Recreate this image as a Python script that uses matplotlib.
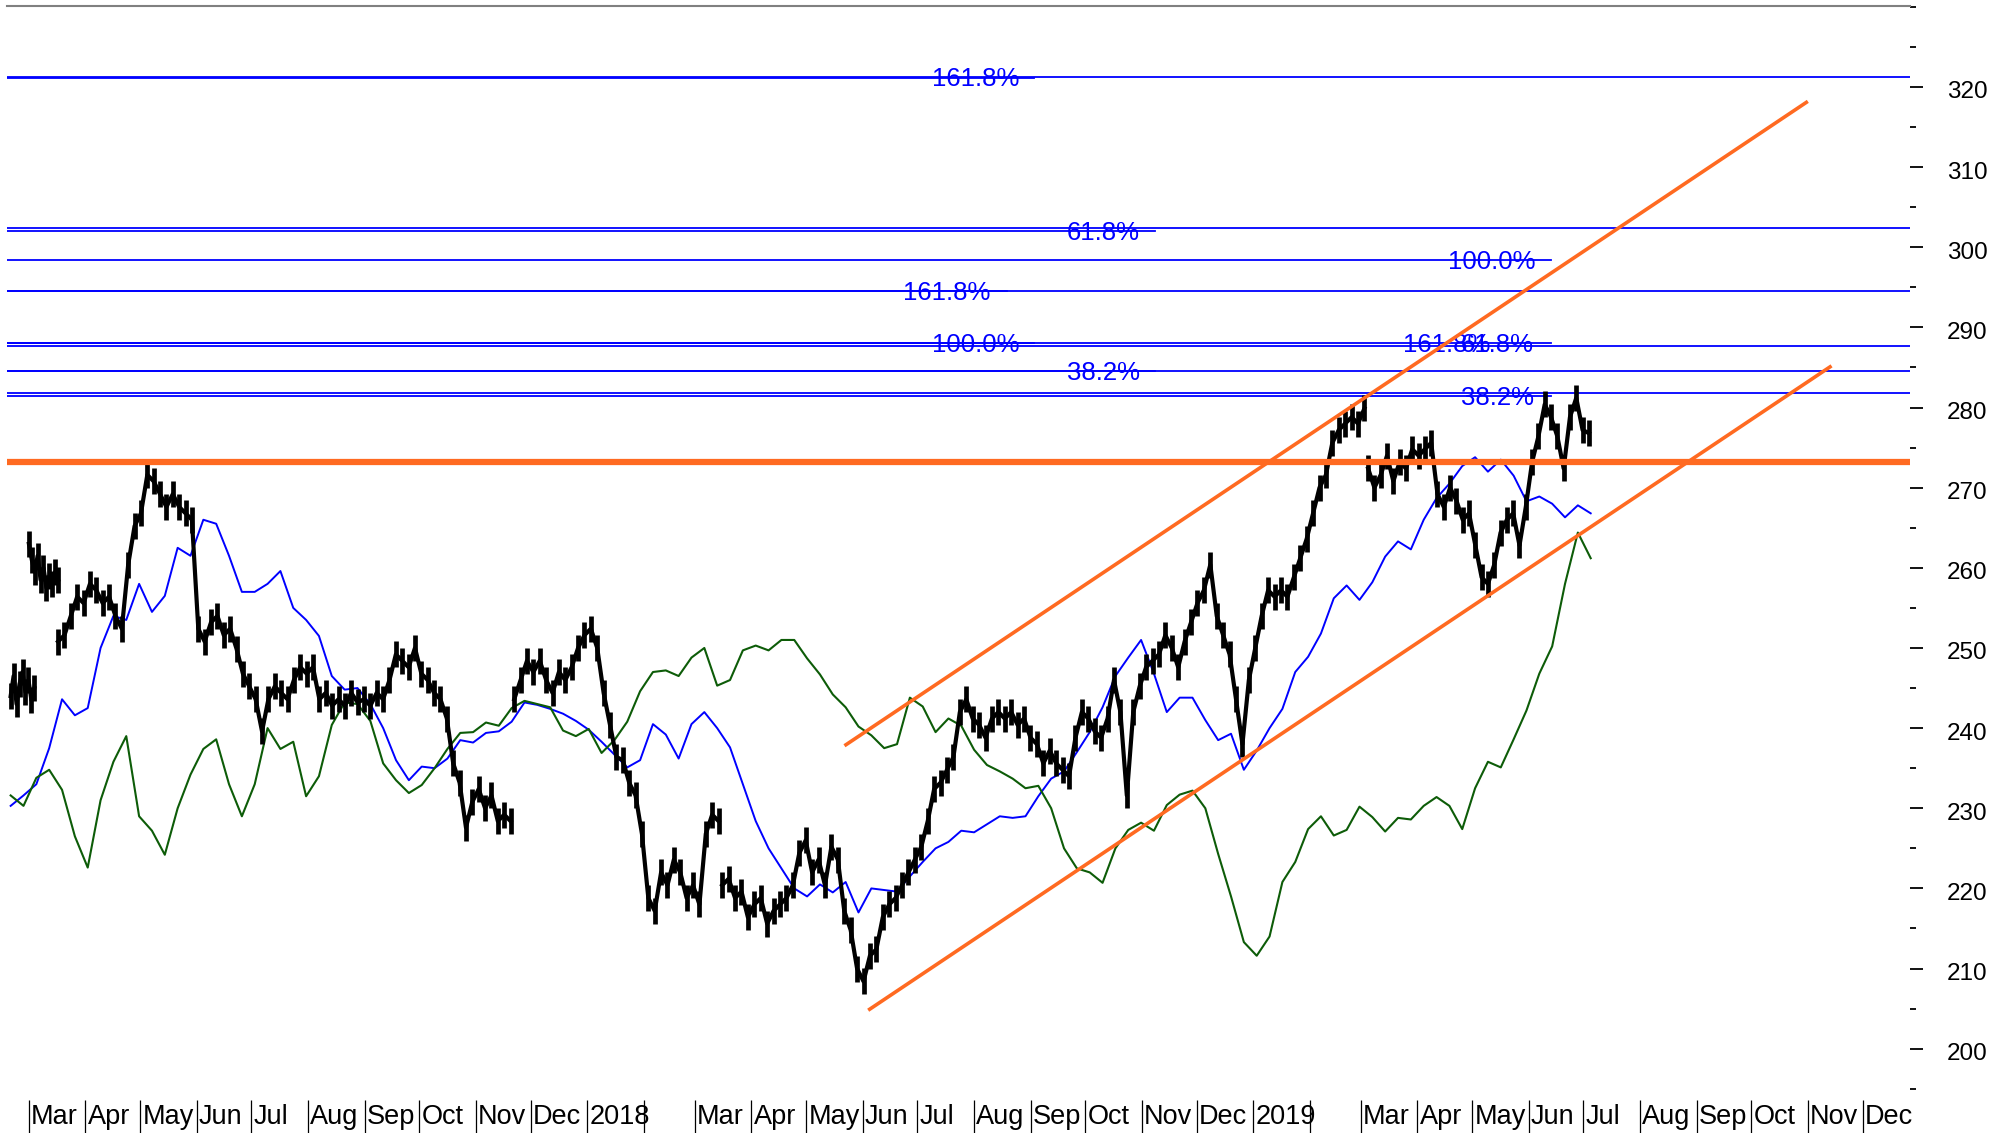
import pandas as pd
import matplotlib
matplotlib.use('Agg')
import matplotlib.pyplot as plt
import matplotlib.transforms as mtransforms
from matplotlib.ticker import MultipleLocator

plt.rcParams['font.family'] = ['Liberation Sans', 'DejaVu Sans']

# ---- price (close) segments ----
seg1_span = ('2017-02-19', '2017-03-04')
seg1 = [244.0, 246.5, 243.0, 245.5, 247.0, 244.5, 246.0, 243.5, 245.0]

seg2_span = ('2017-03-01', '2017-03-17')
seg2 = [263.0, 261.0, 259.5, 261.5, 258.5, 260.0, 257.5, 259.0, 258.0, 259.5, 258.5]

seg3_span = ('2017-03-17', '2017-11-20')
seg3 = [250.8, 251.6, 254.0, 256.4, 255.6, 258.0, 257.2, 255.6, 256.4, 254.0,
        252.4, 260.4, 265.2, 266.8, 271.6, 270.8, 269.2, 267.6, 269.2, 267.6,
        266.8, 266.0, 252.4, 250.8, 253.2, 254.0, 251.6, 252.4, 249.9, 246.8,
        245.2, 243.6, 239.6, 243.6, 245.2, 244.4, 243.6, 246.0, 247.6, 246.8,
        247.6, 243.6, 244.4, 242.8, 243.6, 242.8, 244.4, 243.2, 243.6, 242.8,
        244.4, 243.6, 246.0, 249.2, 248.4, 247.6, 250.0, 246.8, 246.0, 244.4,
        243.6, 241.2, 235.6, 233.2, 227.6, 230.8, 232.4, 230.0, 231.6, 228.4,
        229.2, 228.4]

seg4_span = ('2017-11-22', '2018-03-14')
seg4 = [243.6, 246.0, 248.4, 247.0, 248.4, 246.0, 244.4, 247.0, 246.0, 247.6,
        250.0, 251.6, 252.4, 250.0, 244.4, 240.4, 236.4, 236.0, 233.2, 231.6,
        226.8, 218.8, 217.2, 222.0, 220.4, 223.6, 222.0, 218.8, 220.4, 218.0,
        226.8, 229.2, 228.4]

seg5_span = ('2018-03-16', '2019-03-03')
seg5 = [220.4, 221.2, 218.8, 219.6, 216.4, 218.0, 218.8, 215.6, 217.2, 218.0,
        218.8, 220.4, 224.4, 226.0, 222.0, 223.6, 220.4, 225.2, 223.6, 217.2,
        214.8, 210.0, 208.4, 211.6, 212.4, 216.4, 218.0, 218.8, 220.4, 222.0,
        223.6, 225.2, 228.4, 232.4, 233.2, 234.8, 236.4, 242.0, 243.6, 241.2,
        240.4, 238.8, 241.2, 242.0, 241.2, 242.0, 240.4, 241.2, 238.8, 238.0,
        235.6, 237.2, 235.6, 234.8, 234.0, 238.8, 242.0, 241.2, 239.6, 238.8,
        241.2, 246.0, 242.0, 231.6, 242.0, 245.2, 247.6, 248.4, 249.2, 251.6,
        250.0, 247.6, 250.8, 253.2, 255.6, 257.2, 260.4, 254.0, 251.6, 249.2,
        243.6, 238.0, 246.0, 250.0, 254.0, 257.2, 256.4, 257.2, 256.4, 258.8,
        261.2, 263.6, 266.8, 270.0, 271.6, 275.6, 277.2, 278.0, 278.8, 278.0,
        279.9]

seg6_span = ('2019-03-05', '2019-07-04')
seg6 = [272.4, 270.0, 271.6, 274.0, 270.8, 273.2, 272.4, 274.8, 274.0, 274.8,
        275.6, 269.2, 267.6, 270.0, 268.4, 266.0, 266.8, 262.8, 258.8, 258.0,
        260.4, 264.4, 266.0, 266.8, 262.8, 267.6, 273.2, 276.4, 280.4, 278.8,
        276.4, 272.4, 278.8, 281.2, 277.2, 276.8]

# ---- blue and green lines (weekly readings) ----
lines_span = ('2017-02-19', '2019-07-05')
blue = [230.3, 231.6, 233.0, 237.5, 243.6, 241.6, 242.5, 250.0, 254.0, 253.5,
        258.0, 254.5, 256.5, 262.5, 261.5, 266.0, 265.5, 261.5, 257.0, 257.0,
        258.0, 259.6, 255.0, 253.5, 251.5, 246.5, 244.8, 245.0, 243.0, 240.0,
        236.0, 233.5, 235.2, 235.0, 236.2, 238.5, 238.2, 239.4, 239.6, 240.8,
        243.2, 242.9, 242.4, 241.8, 240.9, 239.8, 238.3, 236.7, 235.1, 236.0,
        240.5, 239.2, 236.2, 240.5, 242.0, 240.0, 237.6, 233.0, 228.4, 225.0,
        222.5, 220.0, 219.0, 220.5, 219.5, 220.8, 217.0, 220.0, 219.8, 219.6,
        221.5, 223.3, 225.0, 225.8, 227.2, 227.0, 228.0, 229.0, 228.8, 229.0,
        231.5, 233.7, 234.6, 237.0, 239.5, 242.6, 246.5, 248.8, 251.0, 246.8,
        242.0, 243.8, 243.8, 241.0, 238.5, 239.3, 234.8, 237.2, 240.0, 242.4,
        247.0, 248.9, 251.8, 256.2, 257.8, 256.0, 258.2, 261.4, 263.3, 262.3,
        266.0, 268.7, 270.5, 272.7, 273.8, 272.0, 273.5, 271.5, 268.3, 268.9,
        268.0, 266.3, 267.8, 266.8]

green = [231.6, 230.3, 233.8, 234.8, 232.3, 226.5, 222.6, 231.0, 235.8, 239.0,
         229.0, 227.2, 224.2, 230.0, 234.2, 237.4, 238.6, 233.0, 229.0, 233.0,
         240.0, 237.4, 238.3, 231.5, 234.0, 240.4, 243.2, 243.0, 240.9, 235.6,
         233.5, 231.9, 232.9, 235.0, 237.4, 239.4, 239.5, 240.7, 240.3, 242.5,
         243.4, 243.0, 242.6, 239.7, 239.0, 239.9, 236.9, 238.5, 240.8, 244.6,
         247.0, 247.2, 246.5, 248.8, 250.0, 245.3, 246.0, 249.7, 250.3, 249.7,
         251.0, 251.0, 248.7, 246.7, 244.2, 242.6, 240.2, 239.1, 237.5, 238.0,
         243.8, 242.7, 239.5, 241.2, 240.3, 237.3, 235.4, 234.6, 233.7, 232.5,
         232.8, 230.0, 225.0, 222.5, 222.0, 220.7, 225.0, 227.3, 228.2, 227.2,
         230.4, 231.7, 232.2, 230.0, 224.3, 219.0, 213.3, 211.6, 214.0, 220.8,
         223.3, 227.4, 229.0, 226.6, 227.3, 230.2, 228.9, 227.1, 228.8, 228.6,
         230.3, 231.4, 230.3, 227.4, 232.5, 235.8, 235.1, 238.6, 242.2, 246.8,
         250.2, 258.0, 264.4, 261.2]

# ---- fibonacci levels ----
fib_full_levels = [321.3, 302.4, 294.5, 287.7, 284.5, 281.8]
fib_short_levels = [321.1, 302.0, 298.4, 294.5, 288.0, 288.1, 284.5, 281.4]
fib_short_ends = ['2018-09-03', '2018-11-08', '2019-06-13', '2018-08-19',
                  '2018-09-03', '2019-06-13', '2018-11-08', '2019-06-13']
fib_labels = ['161.8%', '61.8%', '100.0%', '161.8%', '100.0%', '161.8%', '61.8%', '38.2%', '38.2%']
fib_label_dates = ['2018-08-02', '2018-10-11', '2019-05-12', '2018-07-17', '2018-08-02',
                   '2019-04-17', '2019-05-15', '2018-10-11', '2019-05-15']
fib_label_levels = [321.2, 302.0, 298.4, 294.5, 288.0, 288.0, 288.0, 284.5, 281.4]

# ---- trend lines ----
support_level = 273.2
channel_upper = (('2018-05-22', '2019-11-01'), (237.8, 318.2))
channel_lower = (('2018-06-04', '2019-11-14'), (204.8, 285.2))

x_start, x_end = pd.Timestamp('2017-02-17'), pd.Timestamp('2019-12-27')

fig = plt.figure(figsize=(20.13, 11.33), dpi=100)
ax = fig.add_axes([7 / 2013, 33 / 1133, 1903 / 2013, 1094 / 1133])

# fib lines
for lv in fib_full_levels:
    ax.plot([x_start, x_end], [lv, lv], color='#0000ff', lw=1.3, zorder=1)
for lv, end in zip(fib_short_levels, fib_short_ends):
    ax.plot([x_start, pd.Timestamp(end)], [lv, lv], color='#0000ff', lw=1.3, zorder=1)
for txt, d, lv in zip(fib_labels, fib_label_dates, fib_label_levels):
    ax.text(pd.Timestamp(d), lv - 0.2, txt, color='#0000ff', fontsize=18.5,
            ha='center', va='center', zorder=2)

# moving lines
line_dates = pd.date_range(lines_span[0], lines_span[1], periods=len(blue))
ax.plot(line_dates, blue, color='#0000ff', lw=1.4, zorder=3)
line_dates = pd.date_range(lines_span[0], lines_span[1], periods=len(green))
ax.plot(line_dates, green, color='#0d5c08', lw=1.5, zorder=3)

# price bars
for span, vals in [(seg1_span, seg1), (seg2_span, seg2), (seg3_span, seg3),
                   (seg4_span, seg4), (seg5_span, seg5), (seg6_span, seg6)]:
    d = pd.date_range(span[0], span[1], periods=len(vals))
    ax.plot(d, vals, color='black', lw=3.0, zorder=4)
    ax.plot(d, vals, ls='none', color='black', marker='|', ms=19, mew=3.4, zorder=4)

# orange support and channel
orange = '#ff6a21'
ax.plot([x_start, x_end], [support_level, support_level], color=orange, lw=4.5, zorder=5)
for dates, vals in [channel_upper, channel_lower]:
    ax.plot(pd.to_datetime(list(dates)), vals, color=orange, lw=2.6,
            solid_capstyle='butt', zorder=5)

ax.set_xlim(x_start, x_end)
ax.set_ylim(193.6, 330.1)

for s in ['left', 'right', 'bottom']:
    ax.spines[s].set_visible(False)
ax.spines['top'].set_color('#808080')
ax.spines['top'].set_linewidth(1.5)

# y axis on the right
ax.yaxis.tick_right()
ax.set_yticks(range(200, 321, 10))
ax.yaxis.set_minor_locator(MultipleLocator(5))
ax.tick_params(axis='y', which='major', length=9.5, width=1.3, pad=17, labelsize=17.5)
ax.tick_params(axis='y', which='minor', length=4.5, width=1.3)
shift = mtransforms.ScaledTranslation(0, -3 / 100, fig.dpi_scale_trans)
for lbl in ax.get_yticklabels():
    lbl.set_transform(lbl.get_transform() + shift)

# month ticks along the bottom
months = pd.date_range('2017-03-01', '2019-12-01', freq='MS')
ax.set_xticks(months)
ax.tick_params(axis='x', which='major', length=24, width=0.9, direction='out',
               labelbottom=False)
ax.xaxis.set_minor_locator(plt.NullLocator())
trans = mtransforms.blended_transform_factory(ax.transData, ax.transAxes)
for m in months:
    if m.month == 1:
        lab = str(m.year)
    elif m.month == 2:
        lab = ''
    else:
        lab = m.strftime('%b')
    ax.text(m + pd.Timedelta(days=1.2), -0.0155, lab, transform=trans,
            fontsize=19.5, ha='left', va='center')

fig.savefig('out.png', dpi=100)
